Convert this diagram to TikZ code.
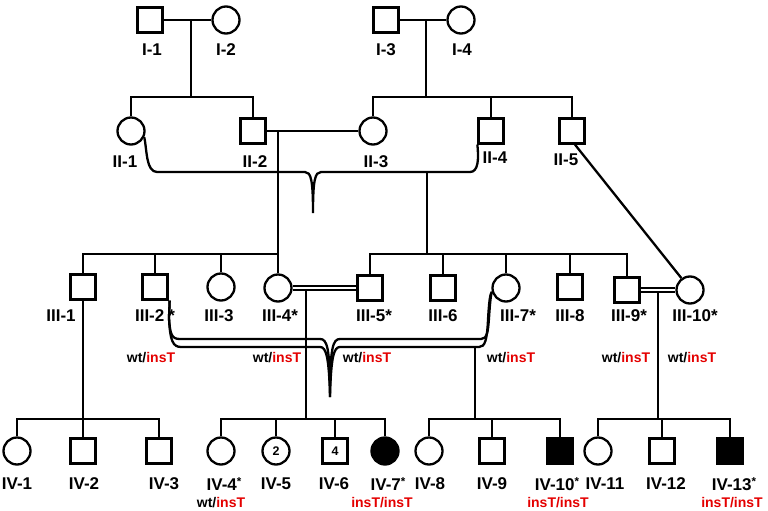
\documentclass[tikz,border=0pt]{standalone}
\usepackage{fontspec}
\setmainfont{Liberation Sans}
\definecolor{gred}{RGB}{228,0,0}
\begin{document}
\begin{tikzpicture}[x=1pt,y=-1pt, line width=2.3pt,
  male/.style={draw, rectangle, minimum size=25pt, inner sep=0pt},
  female/.style={draw, circle, minimum size=27pt, inner sep=0pt},
  aff/.style={fill=black},
  lbl/.style={font=\bfseries\fontsize{17}{17}\selectfont, inner sep=0pt},
  geno/.style={font=\bfseries\fontsize{14}{14}\selectfont, inner sep=0pt},
  num/.style={font=\bfseries\fontsize{12.5}{12.5}\selectfont},
  dbl/.style={double, double distance=2pt, line width=1.7pt},
]
\useasboundingbox (0,0) rectangle (768,511);
\newcommand{\supstar}{\raisebox{5pt}{\fontsize{11.5}{11.5}\selectfont *}}
% Generation I
\node[male] (I1) at (150,20) {};
\node[female] (I2) at (226,20) {};
\node[male] (I3) at (386,20) {};
\node[female] (I4) at (461,20) {};
% Generation II
\node[female] (II1) at (131,131) {};
\node[male] (II2) at (253,131) {};
\node[female] (II3) at (373,131) {};
\node[male] (II4) at (491,131) {};
\node[male] (II5) at (572,131) {};
% Generation III
\node[male] (III1) at (83,287) {};
\node[male] (III2) at (155,287) {};
\node[female] (III3) at (221,287) {};
\node[female] (III4) at (278,288) {};
\node[male] (III5) at (370,288) {};
\node[male] (III6) at (443,288) {};
\node[female] (III7) at (506,288) {};
\node[male] (III8) at (570,287) {};
\node[male] (III9) at (627,290) {};
\node[female] (III10) at (690,290) {};
% Generation IV
\node[female] (IV1) at (17,451) {};
\node[male] (IV2) at (83,451) {};
\node[male] (IV3) at (159,451) {};
\node[female] (IV4) at (221,451) {};
\node[female,num] (IV5) at (276,451) {2};
\node[male,num] (IV6) at (335,451) {4};
\node[female,aff] (IV7) at (385,451) {};
\node[female] (IV8) at (429,451) {};
\node[male] (IV9) at (492,451) {};
\node[male,aff] (IV10) at (560,451) {};
\node[female] (IV11) at (598,451) {};
\node[male] (IV12) at (662,451) {};
\node[male,aff] (IV13) at (730,451) {};

% labels
\node[lbl] (lI1) at (152,50) {I-1};
\node[lbl] (lI2) at (226,50) {I-2};
\node[lbl] (lI3) at (386,50) {I-3};
\node[lbl] (lI4) at (462,50) {I-4};
\node[lbl] (lII1) at (125,162) {II-1};
\node[lbl] (lII2) at (255,162) {II-2};
\node[lbl] (lII3) at (376,162) {II-3};
\node[lbl] (lII4) at (495,158) {II-4};
\node[lbl] (lII5) at (566,160) {II-5};
\node[lbl] (lIII1) at (61,316) {III-1};
\node[lbl] (lIII2) at (155,316) {III-2\hspace{4pt}*};
\node[lbl] (lIII3) at (219,316) {III-3};
\node[lbl] (lIII4) at (280,316) {III-4*};
\node[lbl] (lIII5) at (374,316) {III-5*};
\node[lbl] (lIII6) at (443,316) {III-6};
\node[lbl] (lIII7) at (518,316) {III-7*};
\node[lbl] (lIII8) at (570,316) {III-8};
\node[lbl] (lIII9) at (629,316) {III-9*};
\node[lbl] (lIII10) at (695,316) {III-10*};
\node[lbl] (lIV1) at (17,484) {IV-1};
\node[lbl] (lIV2) at (84,484) {IV-2};
\node[lbl] (lIV3) at (164,484) {IV-3};
\node[lbl] (lIV4) at (224,484) {IV-4\supstar};
\node[lbl] (lIV5) at (276,484) {IV-5};
\node[lbl] (lIV6) at (334,484) {IV-6};
\node[lbl] (lIV7) at (388,484) {IV-7\supstar};
\node[lbl] (lIV8) at (430,484) {IV-8};
\node[lbl] (lIV9) at (492,484) {IV-9};
\node[lbl] (lIV10) at (557,484) {IV-10\supstar};
\node[lbl] (lIV11) at (605,484) {IV-11};
\node[lbl] (lIV12) at (666,484) {IV-12};
\node[lbl] (lIV13) at (734,484) {IV-13\supstar};
% genotypes
\node[geno] (gIII2) at (151,358) {wt/\textcolor{gred}{insT}};
\node[geno] (gIII4) at (277,358) {wt/\textcolor{gred}{insT}};
\node[geno] (gIII5) at (367,358) {wt/\textcolor{gred}{insT}};
\node[geno] (gIII7) at (511,358) {wt/\textcolor{gred}{insT}};
\node[geno] (gIII9) at (626,358) {wt/\textcolor{gred}{insT}};
\node[geno] (gIII10) at (692,358) {wt/\textcolor{gred}{insT}};
\node[geno] (gIV4) at (221,503) {wt/\textcolor{gred}{insT}};
\node[geno,text=gred] (gIV7) at (382,503) {insT/insT};
\node[geno,text=gred] (gIV10) at (558,503) {insT/insT};
\node[geno,text=gred] (gIV13) at (732,503) {insT/insT};

% Gen I unions
\coordinate (m1) at (191,20); \coordinate (s1) at (191,97);
\draw (I1.east) -- (I2.west);
\draw (m1) -- (s1);
\draw (II1.north) |- (s1) -| (II2.north);
\coordinate (m4) at (426,20); \coordinate (s4) at (426,97);
\draw (I3.east) -- (I4.west);
\draw (m4) -- (s4);
\draw (II3.north) |- (s4) -| (II5.north);
\draw (II4.north) -- (II4.north |- s4);

% II-2 x II-3
\draw (II2.east) -- (II3.west);
\coordinate (m2) at (278,131); \coordinate (s2) at (278,254);
\draw (m2) -- (III4.north);
\draw (III1.north) |- (s2);
\draw (III2.north) -- (III2.north |- s2);
\draw (III3.north) -- (III3.north |- s2);

% II-1 x II-4 (brace)
\draw (II1.-25) .. controls (147,150) and (146,172) .. (157,172) -- (305,172)
  .. controls (311,172) and (313,180) .. (313,213)
  .. controls (313,180) and (315,172) .. (321,172) -- (470,172)
  .. controls (478,172) and (479,160) .. (II4.south west);
\coordinate (m3) at (427,172); \coordinate (s3) at (427,254);
\draw (m3) -- (s3);
\draw (III5.north) |- (s3) -| (III9.north);
\draw (III6.north) -- (III6.north |- s3);
\draw (III7.north) -- (III7.north |- s3);
\draw (III8.north) -- (III8.north |- s3);

% II-5 to III-10
\draw ([xshift=3pt]II5.south) -- (III10.126);

% III-1 children
\coordinate (s7) at (83,419);
\draw (III1.south) -- (s7);
\draw (IV1.north) |- (s7) -| (IV3.north);
\draw (IV2.north) -- (s7);

% III-4 x III-5
\draw[dbl] (III4.east) -- (III5.west);
\coordinate (m5) at (306,291); \coordinate (s5) at (306,419);
\draw (m5) -- (s5);
\draw (IV4.north) |- (s5) -| (IV7.north);
\draw (IV5.north) -- (IV5.north |- s5);
\draw (IV6.north) -- (IV6.north |- s5);

% III-2 x III-7 (double brace)
\draw ([xshift=1pt]III2.south east) -- (169,318) .. controls (170,335) and (172,339) .. (180,339) -- (320,339)
  .. controls (327,339) and (330,347) .. (330,397)
  .. controls (330,347) and (333,339) .. (340,339) -- (481,339)
  .. controls (487,339) and (488,332) .. (489,318)
  .. controls (490,302) and (491,294) .. (III7.195);
\draw ([xshift=1pt]III2.south east) -- (169,318) .. controls (170,341) and (173,347) .. (181,347) -- (320,347)
  .. controls (326,347) and (329,356) .. (330,397)
  .. controls (331,356) and (334,347) .. (340,347) -- (479,347)
  .. controls (485,347) and (487,340) .. (488,320)
  .. controls (489,302) and (490,294) .. (III7.195);
\coordinate (m8) at (475,347); \coordinate (s8) at (475,419);
\draw (m8) -- (s8);
\draw (IV8.north) |- (s8) -| (IV10.north);
\draw (IV9.north) -- (IV9.north |- s8);

% III-9 x III-10
\draw[dbl] (III9.east) -- (III10.west);
\coordinate (m6) at (658,292); \coordinate (s6) at (658,419);
\draw (m6) -- (s6);
\draw (IV11.north) |- (s6) -| (IV13.north);
\draw (IV12.north) -- (IV12.north |- s6);
\end{tikzpicture}
\end{document}
